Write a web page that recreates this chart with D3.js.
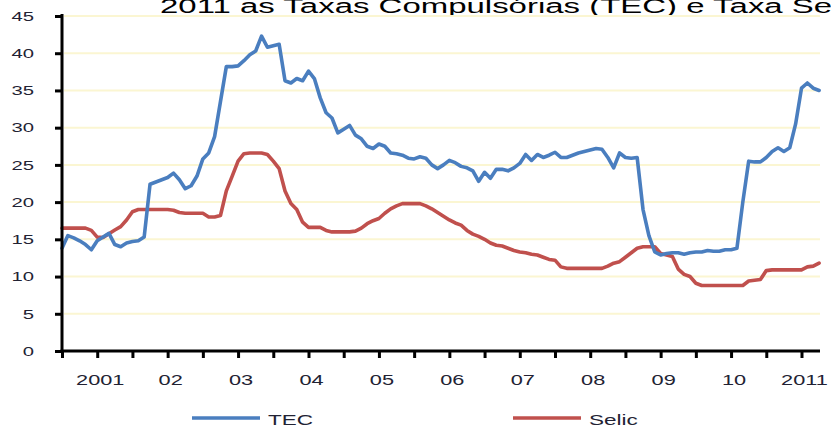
<!DOCTYPE html>
<html>
<head>
<meta charset="utf-8">
<script src="https://cdn.jsdelivr.net/npm/d3@7"></script>
<style>
  html, body { margin: 0; padding: 0; background: #fff; }
  svg { display: block; }
  text { font-family: "Liberation Sans", Arial, sans-serif; }
</style>
</head>
<body>
<svg id="chart" width="831" height="430"></svg>
<script>
// Monthly observations, Jul 2000 .. Apr 2011
const tec = [
  13.8, 15.5, 15.2, 14.8, 14.3, 13.6, 14.8, 15.3, 15.8, 14.3, 14.0, 14.5,
  14.7, 14.8, 15.3, 22.4, 22.7, 23.0, 23.3, 23.9, 23.0, 21.8, 22.2, 23.5,
  25.8, 26.6, 28.8, 33.5, 38.2, 38.2, 38.3, 39.0, 39.8, 40.3, 42.3, 40.8,
  41.0, 41.2, 36.3, 36.0, 36.6, 36.3, 37.6, 36.6, 34.0, 32.0, 31.3, 29.3,
  29.8, 30.3, 29.0, 28.5, 27.5, 27.2, 27.8, 27.5, 26.6, 26.5, 26.3, 25.9,
  25.8, 26.1, 25.9, 25.0, 24.5, 25.0, 25.6, 25.3, 24.8, 24.6, 24.2, 22.8,
  24.0, 23.2, 24.4, 24.4, 24.2, 24.6, 25.2, 26.4, 25.6, 26.4, 26.0, 26.3,
  26.7, 26.0, 26.0, 26.3, 26.6, 26.8, 27.0, 27.2, 27.1, 26.0, 24.6, 26.6,
  26.0, 25.9, 26.0, 19.0, 15.5, 13.3, 12.9, 13.1, 13.2, 13.2, 13.0, 13.2,
  13.3, 13.3, 13.5, 13.4, 13.4, 13.6, 13.6, 13.8, 20.0, 25.5, 25.4, 25.4,
  26.0, 26.8, 27.3, 26.8, 27.3, 30.5, 35.3, 36.0, 35.3, 35.0
];
const selic = [
  16.5, 16.5, 16.5, 16.5, 16.5, 16.2, 15.3, 15.25, 15.75, 16.25, 16.7, 17.6,
  18.7, 19.0, 19.0, 19.0, 19.0, 19.0, 19.0, 18.9, 18.6, 18.5, 18.5, 18.5,
  18.5, 18.0, 18.0, 18.2, 21.5, 23.5, 25.5, 26.5, 26.6, 26.6, 26.6, 26.4,
  25.5, 24.5, 21.5, 19.8, 19.0, 17.3, 16.6, 16.6, 16.6, 16.2, 16.0, 16.0,
  16.0, 16.0, 16.1, 16.5, 17.1, 17.5, 17.8, 18.5, 19.1, 19.5, 19.8, 19.8,
  19.8, 19.8, 19.5, 19.1, 18.6, 18.1, 17.6, 17.2, 16.9, 16.2, 15.7, 15.4,
  15.0, 14.5, 14.2, 14.1, 13.8, 13.5, 13.3, 13.2, 13.0, 12.9, 12.6, 12.3,
  12.2, 11.3, 11.1, 11.1, 11.1, 11.1, 11.1, 11.1, 11.1, 11.4, 11.8, 12.0,
  12.6, 13.2, 13.8, 14.0, 14.0, 14.0, 13.1, 12.9, 12.7, 11.0, 10.3, 10.0,
  9.1, 8.8, 8.8, 8.8, 8.8, 8.8, 8.8, 8.8, 8.8, 9.4, 9.5, 9.6,
  10.8, 10.9, 10.9, 10.9, 10.9, 10.9, 10.9, 11.3, 11.4, 11.8
];
const yTicks = [0, 5, 10, 15, 20, 25, 30, 35, 40, 45];
const yearLabels = ["2001", "02", "03", "04", "05", "06", "07", "08", "09", "10", "2011"];
const seriesNames = ["TEC", "Selic"];
const titleText = "2011 as Taxas Compulsórias (TEC) e Taxa Selic";

(function () {
  const colors = { TEC: "#4a7ebf", Selic: "#c0504d" };
  const stretch = 1.5; // the reference text is horizontally stretched

  const svg = d3.select("#chart");
  const mLeft = 62, mRight = 819.1, mTop = 16, mBottom = 351;

  const x = d3.scaleLinear().domain([0, tec.length - 1]).range([mLeft, mRight]);
  const y = d3.scaleLinear().domain([0, 45]).range([mBottom, mTop]);

  // title (clipped at the top edge, as in the reference)
  svg.append("text")
    .attr("transform", `translate(160,12.5) scale(1.57,1)`)
    .attr("font-size", 21)
    .attr("fill", "#000")
    .text(titleText);

  // gridlines
  svg.append("g").selectAll("line")
    .data(yTicks.filter(d => d > 0))
    .join("line")
    .attr("x1", mLeft + 2).attr("x2", 820)
    .attr("y1", d => y(d)).attr("y2", d => y(d))
    .attr("stroke", "#fbf6d2")
    .attr("stroke-width", 2);

  // series lines
  const line = d3.line().x((d, i) => x(i)).y(d => y(d));
  [["Selic", selic], ["TEC", tec]].forEach(([name, vals]) => {
    svg.append("path")
      .datum(vals)
      .attr("d", line)
      .attr("fill", "none")
      .attr("stroke", colors[name])
      .attr("stroke-width", 3.6)
      .attr("stroke-linejoin", "round")
      .attr("stroke-linecap", "round");
  });

  // y axis
  const yAxis = d3.axisLeft(y).tickValues(yTicks).tickSize(7).tickFormat("");
  const gy = svg.append("g").attr("transform", `translate(${mLeft},0)`).call(yAxis);
  gy.select(".domain").attr("stroke", "#000").attr("stroke-width", 3)
    .attr("d", `M0,${mTop - 2}V${mBottom}`);
  gy.selectAll(".tick line").attr("stroke", "#000").attr("stroke-width", 3);
  svg.append("g").selectAll("text")
    .data(yTicks)
    .join("text")
    .attr("transform", d => `translate(34,${y(d) + 4.8}) scale(${stretch},1)`)
    .attr("text-anchor", "end")
    .attr("font-size", 13.5)
    .attr("fill", "#222233")
    .text(d => d);

  // x axis
  const halfYears = d3.range(0, tec.length, 6);
  const xAxis = d3.axisBottom(x).tickValues(halfYears).tickSize(7).tickFormat("");
  const gx = svg.append("g").attr("transform", `translate(0,${mBottom})`).call(xAxis);
  gx.select(".domain").attr("stroke", "#000").attr("stroke-width", 3)
    .attr("d", `M${mLeft - 1.5},0H820`);
  gx.selectAll(".tick line").attr("stroke", "#000").attr("stroke-width", 3);
  const janIdx = d3.range(6, tec.length, 12);
  svg.append("g").selectAll("text")
    .data(janIdx)
    .join("text")
    .attr("transform", d => `translate(${x(d) + 3},385) scale(${stretch - 0.05},1)`)
    .attr("text-anchor", "middle")
    .attr("font-size", 15)
    .attr("fill", "#222233")
    .text((d, i) => yearLabels[i]);

  // legend
  const legendPos = { TEC: 192, Selic: 513 };
  seriesNames.forEach(name => {
    const lx = legendPos[name];
    svg.append("line")
      .attr("x1", lx).attr("x2", lx + 68)
      .attr("y1", 418).attr("y2", 418)
      .attr("stroke", colors[name]).attr("stroke-width", 3.6);
    svg.append("text")
      .attr("transform", `translate(${lx + 76},424.5) scale(${stretch},1)`)
      .attr("font-size", 15)
      .attr("fill", "#222233")
      .text(name);
  });
})();
</script>
</body>
</html>
